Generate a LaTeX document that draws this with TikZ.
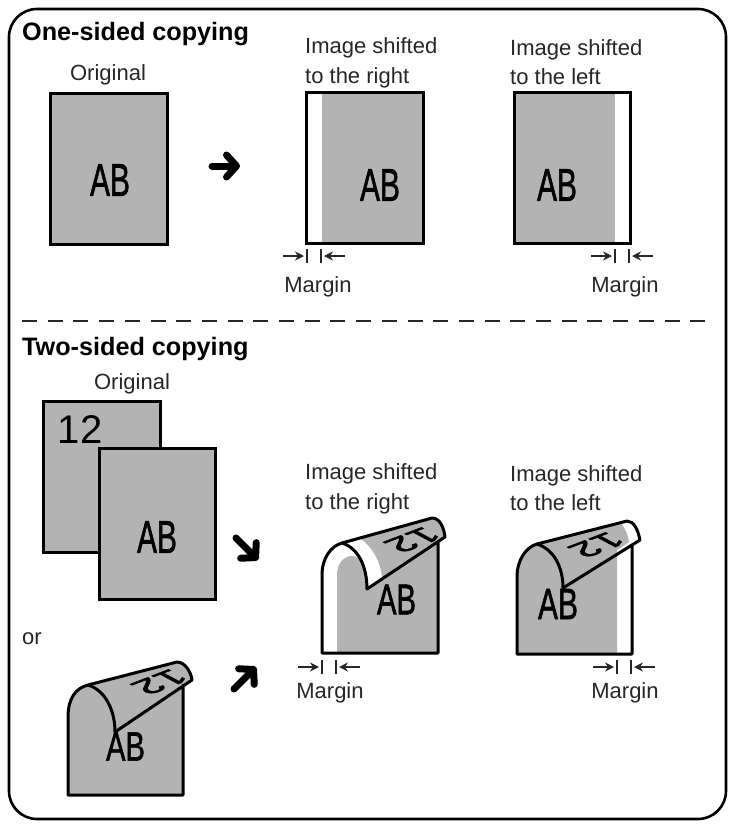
\documentclass[tikz,border=0pt]{standalone}
\usepackage{fontspec}
\setmainfont{Liberation Sans}
\newfontfamily\abfont[FakeBold=1.6]{Liberation Sans}
\usetikzlibrary{arrows.meta}
\definecolor{tonegray}{HTML}{B3B3B3}
\definecolor{inkgray}{HTML}{262626}
\tikzset{
    lbl/.style={font=\fontsize{22}{29.5}\selectfont, text=inkgray, inner sep=0pt, align=left},
    head/.style={font=\bfseries\fontsize{25.2}{26}\selectfont, text=black, inner sep=0pt, anchor=west},
    sheet/.style={draw=black, line width=3pt, line join=miter},
    tone/.style={fill=tonegray, draw=none},
    outline/.style={draw=black, line width=3pt, line join=round, line cap=round},
    bigtext/.style 2 args={font=\abfont\fontsize{#1}{#1}\selectfont, text=black, inner sep=0pt, xscale=#2, transform shape},
    flapnum/.style={font=\abfont\fontsize{30}{30}\selectfont, text=black, inner sep=0pt, transform shape, cm={-1.3,-0.5,0.98,-0.52,(0,0)}},
    bigarrow/.style={line width=7pt, line cap=round, -{Straight Barb[length=10pt,width=22pt,round]}},
    gaparrow/.style={draw=inkgray, line width=1.2pt, -{Stealth[length=9pt,width=9pt,inset=3pt]}},
    gaptick/.style={draw=inkgray, line width=1.2pt},
}
\begin{document}
\begin{tikzpicture}[x=1pt,y=-1pt]
    \useasboundingbox (0,0) rectangle (732,825);
    \draw[line width=2.6pt, rounded corners=28pt] (9,9) rectangle (726,819);

    % one-sided part
    \node[head] (onesided) at (22,34) {One-sided copying};
    \node[lbl] (orig1) at (108,75) {Original};
    \node[lbl, anchor=west] (right1) at (305,63) {Image shifted\\to the right};
    \node[lbl, anchor=west] (left1) at (510,62) {Image shifted\\to the left};

    \draw[sheet, fill=tonegray] (50,93) rectangle (167,244);
    \node[bigtext={46}{.65}] (ab1) at (110,180) {AB};

    \fill[tone] (322,92) rectangle (423,243);
    \draw[sheet] (306,92) rectangle (423,243);
    \node[bigtext={46}{.65}] (ab2) at (380,185) {AB};

    \fill[tone] (514,92) rectangle (615,243);
    \draw[sheet] (514,92) rectangle (630,243);
    \node[bigtext={46}{.65}] (ab3) at (557,185) {AB};

    \coordinate (go1a) at (212,166);
    \coordinate (go1b) at (240,166);
    \draw[bigarrow] (go1a) -- (go1b);

    \draw[inkgray, line width=2pt, dash pattern=on 15pt off 10.7pt] (22,321) -- (706,321);

    % two-sided part
    \node[head] (twosided) at (22,349) {Two-sided copying};
    \node[lbl] (orig2) at (132,384) {Original};
    \node[lbl, anchor=west] (right2) at (305,489) {Image shifted\\to the right};
    \node[lbl, anchor=west] (left2) at (510,488) {Image shifted\\to the left};
    \node[lbl, anchor=west] (ornote) at (22,639) {or};

    \draw[sheet, fill=tonegray] (43,401) rectangle (160,552);
    \node[font=\fontsize{40}{40}\selectfont, inner sep=0pt, anchor=west] (twelve) at (57,430) {1\kern1.5pt 2};
    \draw[sheet, fill=tonegray] (99,448) rectangle (215,599);
    \node[bigtext={46}{.65}] (ab4) at (157,537) {AB};

    \coordinate (go2a) at (236,538);
    \coordinate (go2b) at (258,560);
    \draw[bigarrow] (go2a) -- (go2b);
    \coordinate (go3a) at (234,689);
    \coordinate (go3b) at (256,667);
    \draw[bigarrow] (go3a) -- (go3b);

    % curled sheet, no margin
    \fill[tone] (68,795) -- (68,717) .. controls (68,698) and (76,688) .. (88,685)
        -- (177,662) .. controls (185,662) and (191,672) .. (192,680)
        -- (183,685) -- (183,795) -- cycle;
    \node[flapnum] (num1) at (160,682) {12};
    \node[bigtext={41}{.71}] (ab5) at (125.5,746.5) {AB};
    \draw[outline] (115,732) -- (192,680) .. controls (191,672) and (185,662) .. (177,662)
        -- (88,685) .. controls (76,688) and (68,698) .. (68,717) -- (68,795) -- (183,795) -- (183,685);
    \draw[outline] (88,685) .. controls (105,690) and (115,710) .. (115,732);

    % curled sheet, image shifted to the right
    \fill[tone] (337,653) -- (337,575) .. controls (337,562) and (345,556) .. (352,556)
        .. controls (358,556) and (362,560) .. (363,563) -- (367,589) -- (382,577)
        .. controls (380,560) and (372,546) .. (358,537)
        -- (432,518) .. controls (440,518) and (444,528) .. (445,537)
        -- (438,542) -- (438,653) -- cycle;
    \node[flapnum] (num2) at (413,540) {12};
    \node[bigtext={43}{.68}] (ab6) at (396.5,599.5) {AB};
    \draw[outline] (367,589) -- (445,537) .. controls (444,528) and (440,518) .. (432,518)
        -- (342,543) .. controls (331,546) and (322,558) .. (322,575) -- (322,653) -- (438,653) -- (438,542);
    \draw[outline] (342,543) .. controls (358,548) and (367,566) .. (367,589);

    % curled sheet, image shifted to the left
    \fill[tone] (517,654) -- (517,577) .. controls (517,560) and (526,547) .. (537,544)
        -- (621,523) .. controls (626,530) and (628,535) .. (629,542)
        -- (617,550) -- (617,654) -- cycle;
    \node[flapnum] (num3) at (597,545) {12};
    \node[bigtext={44}{.68}] (ab7) at (558,604) {AB};
    \draw[outline] (563,588) -- (640,540) .. controls (638,530) and (634,521) .. (627,521)
        -- (537,544) .. controls (526,547) and (517,560) .. (517,577) -- (517,654) -- (632,654) -- (632,545);
    \draw[outline] (537,544) .. controls (553,549) and (563,566) .. (563,588);

    % margin marks
    \foreach \nm/\xa/\xb/\ya in {a/307/321/249, b/615/629/249, c/322/336/660, d/617/631/660} {
        \coordinate (\nm t1) at (\xa,\ya);
        \coordinate (\nm b1) at ({\xa},{\ya+14});
        \coordinate (\nm t2) at (\xb,\ya);
        \coordinate (\nm b2) at ({\xb},{\ya+14});
        \coordinate (\nm s1) at ({\xa-24},{\ya+7});
        \coordinate (\nm e1) at ({\xa-3},{\ya+7});
        \coordinate (\nm s2) at ({\xb+24},{\ya+7});
        \coordinate (\nm e2) at ({\xb+3},{\ya+7});
        \draw[gaptick] (\nm t1) -- (\nm b1);
        \draw[gaptick] (\nm t2) -- (\nm b2);
        \draw[gaparrow] (\nm s1) -- (\nm e1);
        \draw[gaparrow] (\nm s2) -- (\nm e2);
    }
    \node[lbl] (margin1) at (318,287) {Margin};
    \node[lbl] (margin2) at (625,287) {Margin};
    \node[lbl] (margin3) at (330,693) {Margin};
    \node[lbl] (margin4) at (625,693) {Margin};
\end{tikzpicture}
\end{document}
